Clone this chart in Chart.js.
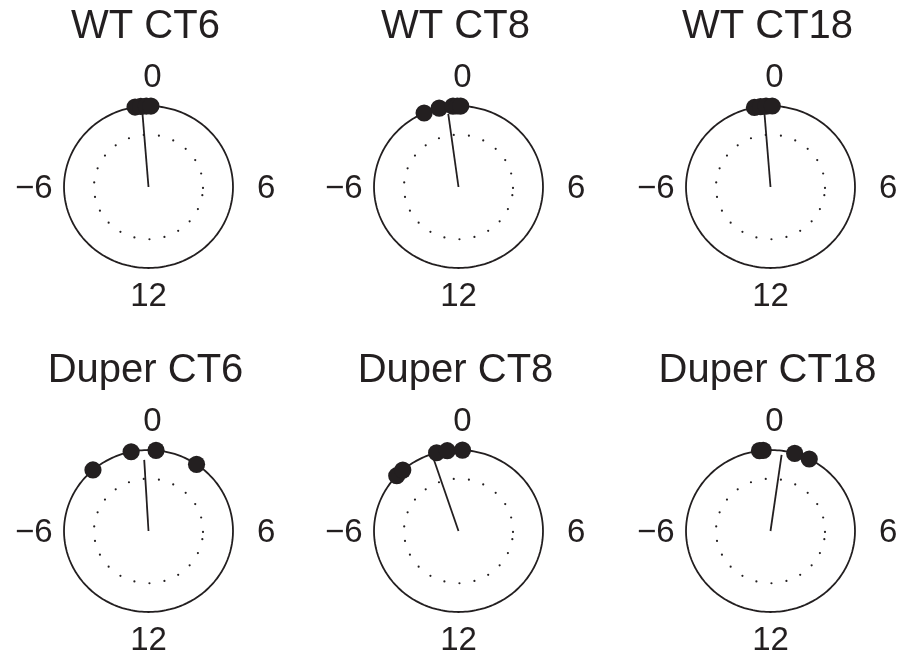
<!DOCTYPE html>
<html>
<head>
<meta charset="utf-8">
<script src="https://cdn.jsdelivr.net/npm/chart.js@4.4.1/dist/chart.umd.min.js"></script>
<style>
  html, body { margin: 0; padding: 0; background: #fff; overflow: hidden; }
  #wrap { position: relative; width: 901px; height: 661px; }
  canvas { position: absolute; }
</style>
</head>
<body>
<div id="wrap"></div>
<script>
// panel titles
const titles = ['WT CT6', 'WT CT8', 'WT CT18', 'Duper CT6', 'Duper CT8', 'Duper CT18'];
// dial labels (top, right, bottom, left)
const dialLabels = ['0', '6', '12', '\u22126'];
// individual phases, hours (0 at top, +6 right, -6 left)
const phasesWT6 = [-0.61, -0.35, -0.1, 0.11];
const phasesWT8 = [-1.6, -0.88, -0.25, -0.05, 0.1];
const phasesWT18 = [-0.73, -0.45, -0.2, 0.08];
const phasesDup6 = [-2.74, -0.79, 0.34, 2.31];
const phasesDup8 = [-3.13, -2.75, -1.0, -0.51, 0.18];
const phasesDup18 = [-0.5, -0.33, 1.11, 1.82];
const phases = [phasesWT6, phasesWT8, phasesWT18, phasesDup6, phasesDup8, phasesDup18];
// mean vector: phase (hours) and length (fraction of radius)
const meanPhase = [-0.3, -0.51, -0.3, -0.22, -1.22, 0.53];
const meanLength = [0.91, 0.91, 0.91, 0.88, 0.93, 0.95];

const ink = '#231f20';
const centersX = [148, 458.7, 770];
const centersY = [187, 531];

function toXY(hours, r) {
  const a = hours / 24 * 2 * Math.PI;
  return { x: r * Math.sin(a), y: r * Math.cos(a) };
}

function outerCircle() {
  const pts = [];
  for (let d = 0; d <= 360; d += 3) pts.push(toXY(d / 15, 1));
  return pts;
}

function innerRing() {
  // dotted ring, 16 deg apart starting at 99 deg
  const pts = [];
  for (let k = 0; k < 23; k++) pts.push(toXY((99 + 16 * k) / 15, 0.645));
  return pts;
}

const labelPlugin = {
  id: 'dialText',
  afterDraw(chart) {
    const ctx = chart.ctx;
    const xs = chart.scales.x, ys = chart.scales.y;
    const cx = xs.getPixelForValue(0), cy = ys.getPixelForValue(0);
    const rx = xs.getPixelForValue(1) - cx, ry = cy - ys.getPixelForValue(1);
    ctx.save();
    ctx.fillStyle = ink;
    ctx.textAlign = 'center';
    ctx.textBaseline = 'middle';
    ctx.font = '40px "Liberation Sans", Arial, sans-serif';
    ctx.fillText(chart.options.plugins.dialText.title, cx - 3, cy - 1.97 * ry);
    ctx.font = '33px "Liberation Sans", Arial, sans-serif';
    ctx.fillText(dialLabels[0], cx + 4, cy - 1.346 * ry);
    ctx.fillText(dialLabels[1], cx + 1.394 * rx, cy + 2);
    ctx.fillText(dialLabels[2], cx, cy + 1.36 * ry);
    ctx.fillText(dialLabels[3], cx - 1.357 * rx, cy + 2);
    ctx.restore();
  }
};

const wrap = document.getElementById('wrap');
titles.forEach((title, i) => {
  const cv = document.createElement('canvas');
  cv.width = 311;
  cv.height = 310;
  cv.style.left = (centersX[i % 3] - 155.5) + 'px';
  cv.style.top = (centersY[Math.floor(i / 3)] - 185) + 'px';
  wrap.appendChild(cv);

  const mv = toXY(meanPhase[i], meanLength[i]);
  new Chart(cv.getContext('2d'), {
    type: 'scatter',
    data: {
      datasets: [
        { data: phases[i].map(h => toXY(h, 1)), pointRadius: 8.6, pointBackgroundColor: ink, pointBorderWidth: 0, showLine: false },
        { data: [{ x: 0, y: 0 }, mv], showLine: true, borderColor: ink, borderWidth: 1.8, pointRadius: 0 },
        { data: outerCircle(), showLine: true, borderColor: ink, borderWidth: 1.8, pointRadius: 0, tension: 0.0001 },
        { data: innerRing(), pointRadius: 1.1, pointBackgroundColor: ink, pointBorderWidth: 0, showLine: false }
      ]
    },
    options: {
      responsive: false,
      animation: false,
      layout: { padding: { left: 37.2, right: 37.2, top: 71.6, bottom: 11.6 } },
      scales: {
        x: { type: 'linear', min: -1.4, max: 1.4, display: false },
        y: { type: 'linear', min: -1.4, max: 1.4, display: false }
      },
      plugins: {
        legend: { display: false },
        tooltip: { enabled: false },
        dialText: { title: title }
      },
      elements: { line: { fill: false } }
    },
    plugins: [labelPlugin]
  });
});
</script>
</body>
</html>
